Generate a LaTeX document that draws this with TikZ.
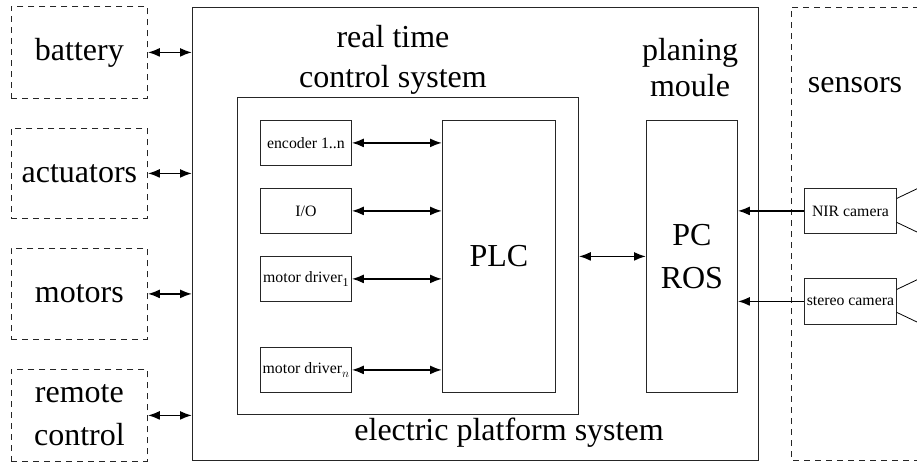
\documentclass[tikz,border=0pt]{standalone}
\usepackage{fontspec}
\setmainfont{Liberation Serif}
\usetikzlibrary{arrows.meta,calc}
\newcommand{\mysub}[1]{\raisebox{-3.5pt}{\fontsize{12}{12}\selectfont #1}}
\begin{document}
\begin{tikzpicture}[x=1pt,y=-1pt,
  box/.style={draw=black!85,line width=0.8pt,rectangle,anchor=north west,inner sep=0pt,align=center},
  dbox/.style={box,dash pattern=on 6pt off 5pt},
  big/.style={font=\fontsize{32}{40}\selectfont},
  small/.style={font=\fontsize{15.8}{18}\selectfont},
  arr/.style={line width=1.8pt,-{Latex[length=12pt,width=9pt]}},
  darr/.style={line width=1.8pt,{Latex[length=12pt,width=9pt]}-{Latex[length=12pt,width=9pt]}},
  txt/.style={inner sep=0pt,align=center}
]
\useasboundingbox (0,0) rectangle (917,464);
% left dashed boxes
\node[dbox,big,minimum width=136pt,minimum height=92pt] (battery) at (11,6) {battery};
\node[dbox,big,minimum width=136pt,minimum height=90pt] (actuators) at (11,128) {actuators};
\node[dbox,big,minimum width=136pt,minimum height=91pt] (motors) at (11,248) {motors};
\node[dbox,big,minimum width=136pt,minimum height=92pt,font=\fontsize{32}{43}\selectfont] (remote) at (11,369) {remote\\control};
% outer box
\node[box,minimum width=566pt,minimum height=453pt] (eps) at (192,7) {};
% inner box
\node[box,minimum width=341pt,minimum height=317pt] (rtcs) at (237,97) {};
% PLC and PC
\node[box,big,minimum width=113pt,minimum height=272pt] (plc) at (442,120) {PLC};
\node[box,minimum width=91pt,minimum height=272pt,font=\fontsize{32}{43}\selectfont] (pc) at (646,120) {PC\\ROS};
% small boxes
\node[box,small,minimum width=91pt,minimum height=45pt] (enc) at (260,120) {encoder 1..n};
\node[box,small,minimum width=91pt,minimum height=45pt] (io) at (260,188) {I/O};
\node[box,small,minimum width=91pt,minimum height=45pt] (md1) at (260,256) {motor driver\mysub{1}};
\node[box,small,minimum width=91pt,minimum height=45pt] (mdn) at (260,347) {motor driver\mysub{$n$}};
% sensors
\draw[line width=0.8pt,draw=black!85,dash pattern=on 6pt off 5pt] (930,7) -- (791,7) -- (791,460) -- (930,460);
\node[txt,big] (sensors) at (855,85) {sensors};
\node[box,small,minimum width=92pt,minimum height=45pt] (nir) at (804,188) {NIR camera};
\node[box,small,minimum width=92pt,minimum height=46pt] (stereo) at (804,278) {stereo camera};
% fov lines
\draw[line width=0.8pt] (nir.east) ++(0,-12.5) coordinate (n1) -- ++(42,-20);
\draw[line width=0.8pt] (nir.east) ++(0,11.5) coordinate (n2) -- ++(42,20);
\draw[line width=0.8pt] (stereo.east) ++(0,-12) coordinate (s1) -- ++(42,-20);
\draw[line width=0.8pt] (stereo.east) ++(0,11) coordinate (s2) -- ++(42,20);
% labels
\node[txt,big] (rtlabel) at (393,60) {real time\\control system};
\node[txt,font=\fontsize{32}{36}\selectfont] (pmlabel) at (690,68) {planing\\moule};
\node[txt,big] (eplabel) at (509,433) {electric platform system};
% arrows left
\foreach \n in {battery,actuators,motors,remote}
  \draw[darr] (\n.east) -- (\n.east -| eps.west);
% arrows to PLC
\foreach \n in {enc,io,md1,mdn}
  \draw[darr] (\n.east) -- (\n.east -| plc.west);
% PLC to PC
\draw[darr] (pc.west -| rtcs.east) -- (pc.west);
% cameras to PC
\draw[arr] (nir.west) -- (nir.west -| pc.east);
\draw[arr] (stereo.west) -- (stereo.west -| pc.east);
\end{tikzpicture}
\end{document}
